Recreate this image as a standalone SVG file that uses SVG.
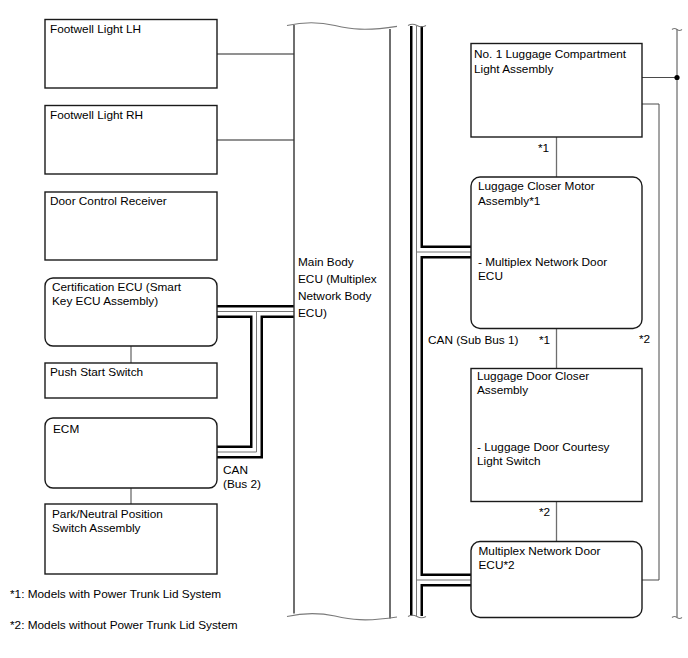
<svg xmlns="http://www.w3.org/2000/svg" width="688" height="658" viewBox="0 0 688 658">
<style>
.box{fill:#fff;stroke:#1a1a1a;stroke-width:1.4}
.t{font-family:"Liberation Sans",Arial,sans-serif;font-size:11.8px;fill:#000}
.ln{stroke:#6e6e6e;stroke-width:1.3;fill:none}
.thin{stroke:#4a4a4a;stroke-width:1;fill:none}
.wave{stroke:#7a7a7a;stroke-width:1.2;fill:none}
.ecu{stroke:#333;stroke-width:1.4;fill:none}
.busB{stroke:#000;stroke-width:13;fill:none;stroke-linejoin:miter}
.busW{stroke:#fff;stroke-width:8;fill:none;stroke-linejoin:miter}
.busC{stroke:#777;stroke-width:1;fill:none}
</style>
<rect width="688" height="658" fill="#fff"/>

<g id="connectors">
  <path class="ln" d="M217,54H294M217,140H294"/>
  <path class="ln" d="M131,346V363M131,488V504"/>
  <path class="ln" d="M556.5,137V177M556.5,328.5V368.5M556.5,501.5V541.5"/>
  <path class="thin" d="M642,77.5H677M677,29V617"/>
  <path class="wave" d="M672,29.5q2.5,-2 5,0t5,0M672,617.5q2.5,-2 5,0t5,0"/>
  <circle cx="677" cy="77.5" r="2.6" fill="#000"/>
  <path class="thin" d="M642,104H659V580H642"/>
  <!-- CAN Bus 2 -->
  <g id="can-bus2">
    <path class="busB" d="M217,311.5H294M256.5,311.5V452H217"/>
    <path class="busW" d="M217,311.5H294M256.5,311.5V452H217"/>
    <path class="busC" d="M217,311.5H294M256.5,311.5V452H217"/>
  </g>
  <!-- CAN Sub Bus 1 -->
  <g id="can-sub-bus1">
    <path class="busB" d="M416.5,26V616M416.5,252H471M416.5,580H471"/>
    <path class="busW" d="M416.5,26V616M416.5,252H471M416.5,580H471"/>
    <path class="busC" d="M416.5,26V616M416.5,252H471M416.5,580H471"/>
    <path class="wave" d="M408,25.5q4.5,-2.5 9,0t9,0M408,616.5q4.5,-2.5 9,0t9,0"/>
  </g>
  <text class="t" x="223" y="473.5">CAN</text>
  <text class="t" x="223" y="487.5">(Bus 2)</text>
  <text class="t" x="428" y="344">CAN (Sub Bus 1)</text>
  <text class="t" x="538" y="152">*1</text>
  <text class="t" x="539" y="344">*1</text>
  <text class="t" x="639" y="343">*2</text>
  <text class="t" x="539" y="516">*2</text>
</g>

<g id="main-body-ecu">
  <path class="ecu" d="M294,25V613.5M390,29V618.5"/>
  <path class="wave" d="M287,25.5C305,21.5 320,22 335,25.5C350,29 365,31.5 397,26.3"/>
  <path class="wave" d="M287,616.5C305,612.5 320,613 335,616C350,619.5 365,622 397,617"/>
  <text class="t" x="298" y="266">Main Body</text>
  <text class="t" x="298" y="283">ECU (Multiplex</text>
  <text class="t" x="298" y="300">Network Body</text>
  <text class="t" x="298" y="317">ECU)</text>
</g>

<g id="footwell-lh">
  <rect class="box" x="45" y="19.5" width="172" height="68.5"/>
  <text class="t" x="50" y="32.5">Footwell Light LH</text>
</g>
<g id="footwell-rh">
  <rect class="box" x="45" y="105.5" width="172" height="68.5"/>
  <text class="t" x="50" y="118.5">Footwell Light RH</text>
</g>
<g id="door-control-receiver">
  <rect class="box" x="45" y="192" width="172" height="68"/>
  <text class="t" x="50" y="205">Door Control Receiver</text>
</g>
<g id="certification-ecu">
  <rect class="box" x="45" y="278" width="172" height="68" rx="8"/>
  <text class="t" x="52" y="291">Certification ECU (Smart</text>
  <text class="t" x="52" y="305">Key ECU Assembly)</text>
</g>
<g id="push-start-switch">
  <rect class="box" x="45" y="363" width="172" height="35"/>
  <text class="t" x="50" y="376">Push Start Switch</text>
</g>
<g id="ecm">
  <rect class="box" x="45" y="418" width="172" height="70" rx="8"/>
  <text class="t" x="53" y="433">ECM</text>
</g>
<g id="park-neutral">
  <rect class="box" x="45" y="504" width="172" height="70"/>
  <text class="t" x="52" y="518">Park/Neutral Position</text>
  <text class="t" x="52" y="532">Switch Assembly</text>
</g>

<g id="luggage-light">
  <rect class="box" x="471" y="43.5" width="171" height="93.5"/>
  <text class="t" x="474" y="58">No. 1 Luggage Compartment</text>
  <text class="t" x="474" y="72.5">Light Assembly</text>
</g>
<g id="luggage-closer-motor">
  <rect class="box" x="471" y="177" width="171" height="151.5" rx="9"/>
  <text class="t" x="478" y="190">Luggage Closer Motor</text>
  <text class="t" x="478" y="204.5">Assembly*1</text>
  <text class="t" x="478" y="266">- Multiplex Network Door</text>
  <text class="t" x="478" y="280">ECU</text>
</g>
<g id="luggage-door-closer">
  <rect class="box" x="471" y="368.5" width="171" height="133"/>
  <text class="t" x="477" y="380">Luggage Door Closer</text>
  <text class="t" x="477" y="394">Assembly</text>
  <text class="t" x="477" y="451">- Luggage Door Courtesy</text>
  <text class="t" x="477" y="465">Light Switch</text>
</g>
<g id="multiplex-door-ecu">
  <rect class="box" x="471" y="541.5" width="171" height="76" rx="9"/>
  <text class="t" x="478.5" y="555">Multiplex Network Door</text>
  <text class="t" x="478.5" y="569">ECU*2</text>
</g>

<g id="notes">
  <text class="t" x="10" y="597.5">*1: Models with Power Trunk Lid System</text>
  <text class="t" x="10" y="629">*2: Models without Power Trunk Lid System</text>
</g>
</svg>
